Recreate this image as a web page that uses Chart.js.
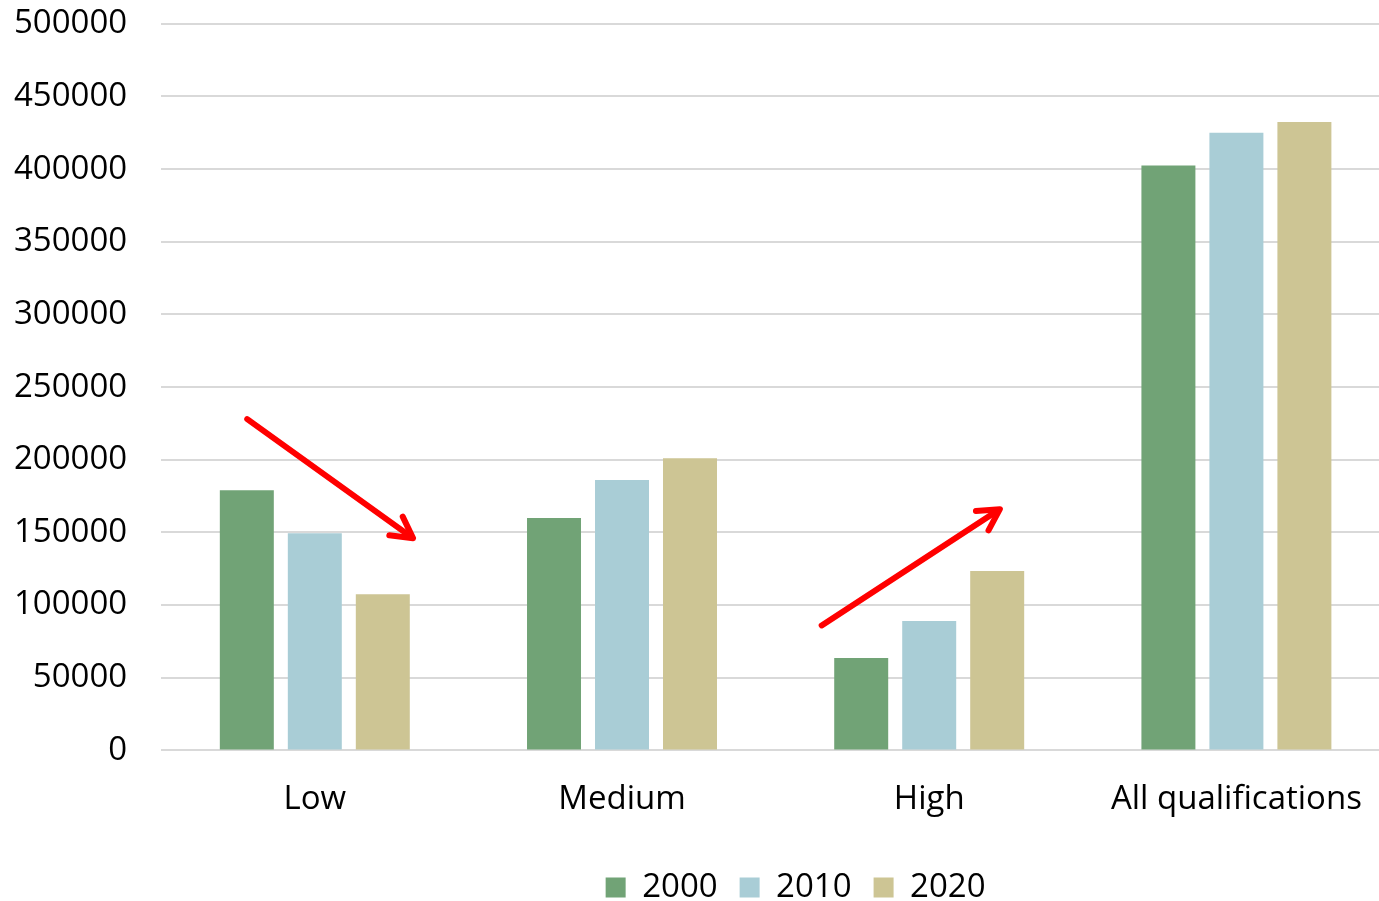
<!DOCTYPE html>
<html>
<head>
<meta charset="utf-8">
<script src="https://cdn.jsdelivr.net/npm/chart.js@4"></script>
<style>
  html, body { margin: 0; padding: 0; background: #fff; overflow: hidden; }
  #wrap { width: 1392px; height: 901px; position: relative; }
</style>
</head>
<body>
<div id="wrap"><canvas id="chart"></canvas></div>
<script>
// qualification levels
const categories = ["Low", "Medium", "High", "All qualifications"];
const years = ["2000", "2010", "2020"];

// values
const values2000 = [179000, 160000, 63500, 402500];
const values2010 = [149500, 186000, 89000, 425000];
const values2020 = [107500, 201000, 123500, 432500];

const yTicks = [0, 50000, 100000, 150000, 200000, 250000, 300000, 350000, 400000, 450000, 500000];

// red trend arrows, [category position, value] for start and tip
const arrows = [
    { from: [-0.22, 228000], to: [0.32, 146000] },
    { from: [1.65, 86000], to: [2.23, 166000] }
];

const colors = ["#71a376", "#a9cdd6", "#cdc594"];
const font = "'Open Sans', 'DejaVu Sans', sans-serif";

const arrowPlugin = {
    id: "arrows",
    afterLayout(chart) {
        // legend sits a bit right of the plot centre and a bit lower in the original
        chart.legend.left += 20;
        chart.legend.right += 20;
        chart.legend.top += 9;
        chart.legend.bottom += 9;
    },
    afterDatasetsDraw(chart) {
        const ctx = chart.ctx;
        const xs = chart.scales.x, ys = chart.scales.y;
        ctx.save();
        ctx.strokeStyle = "#ff0000";
        ctx.lineWidth = 6;
        ctx.lineCap = "round";
        ctx.lineJoin = "round";
        arrows.forEach((a) =>
        {
            let x1 = xs.getPixelForValue(a.from[0]), y1 = ys.getPixelForValue(a.from[1]);
            let x2 = xs.getPixelForValue(a.to[0]), y2 = ys.getPixelForValue(a.to[1]);
            let ang = Math.atan2(y2 - y1, x2 - x1);
            let head = 24, spread = 0.5;
            ctx.beginPath();
            ctx.moveTo(x1, y1);
            ctx.lineTo(x2 - 2 * Math.cos(ang), y2 - 2 * Math.sin(ang));
            ctx.stroke();
            ctx.beginPath();
            ctx.moveTo(x2 - head * Math.cos(ang - spread), y2 - head * Math.sin(ang - spread));
            ctx.lineTo(x2, y2);
            ctx.lineTo(x2 - head * Math.cos(ang + spread), y2 - head * Math.sin(ang + spread));
            ctx.stroke();
        });
        ctx.restore();
    }
};

new Chart(document.getElementById("chart").getContext("2d"),
{
    type: "bar",
    data: {
        labels: categories,
        datasets: [
            { label: years[0], data: values2000, backgroundColor: colors[0] },
            { label: years[1], data: values2010, backgroundColor: colors[1] },
            { label: years[2], data: values2020, backgroundColor: colors[2] }
        ]
    },
    options: {
        responsive: true,
        maintainAspectRatio: false,
        animation: false,
        categoryPercentage: 0.664,
        barPercentage: 0.794,
        layout: { padding: { top: 2, right: 2, left: 10, bottom: -4 } },
        scales: {
            x: {
                grid: { display: false },
                border: { display: false },
                ticks: { color: "#000", font: { family: font, size: 33 }, padding: 21 }
            },
            y: {
                min: 0,
                max: 500000,
                afterBuildTicks: (axis) => { axis.ticks = yTicks.map((v) => ({ value: v })); },
                grid: { color: "#d9d9d9", lineWidth: 2, drawTicks: true, tickLength: 30, tickColor: "rgba(0,0,0,0)" },
                border: { display: false },
                ticks: {
                    color: "#000",
                    font: { family: font, size: 33 },
                    padding: 4,
                    callback: (v) => String(v)
                }
            }
        },
        plugins: {
            legend: {
                position: "bottom",
                fullSize: false,
                labels: {
                    color: "#000",
                    font: { family: font, size: 33 },
                    boxWidth: 20,
                    boxHeight: 20,
                    padding: 22
                }
            },
            tooltip: { enabled: false }
        }
    },
    plugins: [arrowPlugin]
});
</script>
</body>
</html>
